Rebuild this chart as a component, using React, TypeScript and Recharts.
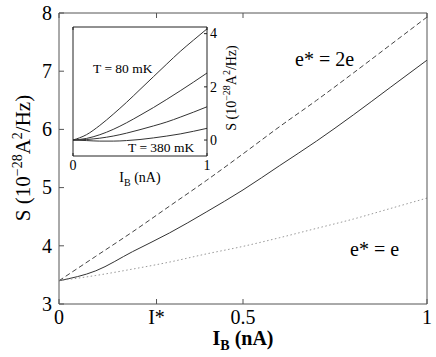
import { LineChart, Line, XAxis, YAxis } from 'recharts'

// main plot: noise vs bias current
const xs = [0, 0.1, 0.2, 0.3, 0.4, 0.5, 0.6, 0.7, 0.8, 0.9, 1]
const twoE = [3.4, 3.82, 4.24, 4.68, 5.12, 5.58, 6.05, 6.5, 6.97, 7.45, 7.93]
const measured = [3.4, 3.57, 3.9, 4.22, 4.58, 4.96, 5.38, 5.8, 6.25, 6.72, 7.19]
const oneE = [3.4, 3.49, 3.6, 3.72, 3.86, 3.99, 4.14, 4.3, 4.46, 4.64, 4.82]

const yTicks = [3, 4, 5, 6, 7, 8]
const xTicks = [0, 0.265, 0.5, 1]
const xTickLabels = ['0', 'I*', '0.5', '1']

// inset: T = 80 mK ... 380 mK
const t80 = [0, 0.2, 0.55, 0.97, 1.42, 1.9, 2.38, 2.86, 3.33, 3.76, 4.18]
const t180 = [0, 0.06, 0.2, 0.4, 0.65, 0.93, 1.22, 1.53, 1.85, 2.18, 2.52]
const t280 = [0, 0.02, 0.07, 0.15, 0.26, 0.39, 0.53, 0.68, 0.86, 1.05, 1.25]
const t380 = [0, -0.02, -0.04, -0.04, -0.02, 0.02, 0.08, 0.15, 0.23, 0.33, 0.44]
const insetYTicks = [0, 2, 4]
const insetXTicks = [0, 1]

const mainData = xs.map((x, i) => ({ x, twoE: twoE[i], measured: measured[i], oneE: oneE[i] }))
const insetData = xs.map((x, i) => ({ x, t80: t80[i], t180: t180[i], t280: t280[i], t380: t380[i] }))

const FONT = 'Liberation Serif, Times New Roman, serif'
const AXIS = '#555'
const serif = { fontFamily: FONT }

// matlab style ticks: pointing into the box
const makeTick =
  (side: string, gap: number, len: number, size: number, color: string, fmt?: (v: number) => string) =>
  (p: any) => {
    const { x, y, payload } = p
    const txt = fmt ? fmt(payload.value) : ''
    let l
    let t = null
    if (side === 'left') {
      l = { x1: x + gap, x2: x + gap + len, y1: y, y2: y }
      t = <text x={x} y={y} dy="0.34em" textAnchor="end">{txt}</text>
    } else if (side === 'right') {
      l = { x1: x - gap, x2: x - gap - len, y1: y, y2: y }
      t = <text x={x} y={y} dy="0.34em" textAnchor="start">{txt}</text>
    } else if (side === 'bottom') {
      l = { x1: x, x2: x, y1: y - gap, y2: y - gap - len }
      t = <text x={x} y={y} dy="0.7em" textAnchor="middle">{txt}</text>
    } else {
      l = { x1: x, x2: x, y1: y + gap, y2: y + gap + len }
    }
    return (
      <g style={{ fontFamily: FONT, fontSize: size }} fill="#000">
        <line {...l} stroke={color} strokeWidth={1} />
        {txt ? t : null}
      </g>
    )
  }

const fmtNum = (v: number) => String(v)
const fmtX = (v: number) => xTickLabels[xTicks.indexOf(v)] ?? ''

export default function App() {
  return (
    <div style={{ position: 'absolute', left: 0, top: 0, width: 436, height: 357, background: '#fff', fontFamily: FONT }}>
      <LineChart width={436} height={357} data={mainData} margin={{ top: 12, right: 8, bottom: 0, left: 0 }}>
        <XAxis
          dataKey="x"
          type="number"
          domain={[0, 1]}
          ticks={xTicks}
          interval={0}
          height={53}
          tickSize={0}
          tickMargin={6}
          stroke={AXIS}
          tickLine={false}
          tick={makeTick('bottom', 6, 5, 20, AXIS, fmtX)}
        />
        <XAxis
          xAxisId="top"
          orientation="top"
          dataKey="x"
          type="number"
          domain={[0, 1]}
          ticks={xTicks}
          interval={0}
          height={1}
          tickSize={0}
          tickMargin={0}
          stroke={AXIS}
          tickLine={false}
          tick={makeTick('top', 0, 5, 20, AXIS)}
        />
        <YAxis
          type="number"
          domain={[3, 8]}
          ticks={yTicks}
          interval={0}
          width={59}
          tickSize={0}
          tickMargin={7}
          stroke={AXIS}
          tickLine={false}
          tick={makeTick('left', 7, 5, 20, AXIS, fmtNum)}
        />
        <YAxis
          yAxisId="right"
          orientation="right"
          type="number"
          domain={[3, 8]}
          ticks={yTicks}
          interval={0}
          width={1}
          tickSize={0}
          tickMargin={0}
          stroke={AXIS}
          tickLine={false}
          tick={makeTick('right', 0, 5, 20, AXIS)}
        />
        <Line dataKey="twoE" type="monotone" stroke="#444" strokeWidth={1} strokeDasharray="5 3" dot={false} isAnimationActive={false} />
        <Line dataKey="measured" type="monotone" stroke="#333" strokeWidth={1} dot={false} isAnimationActive={false} />
        <Line dataKey="oneE" type="monotone" stroke="#999" strokeWidth={1} strokeDasharray="1.5 2.5" dot={false} isAnimationActive={false} />
      </LineChart>

      <div style={{ position: 'absolute', left: 40, top: 10 }}>
        <LineChart width={220} height={185} data={insetData} margin={{ top: 16, right: 52, bottom: 0, left: 0 }}>
          <XAxis
            dataKey="x"
            type="number"
            domain={[0, 1]}
            ticks={insetXTicks}
            interval={0}
            height={39}
            tickSize={0}
            tickMargin={4}
            stroke="#222"
            tickLine={false}
            tick={makeTick('bottom', 4, 3, 14, '#222', fmtNum)}
          />
          <XAxis
            xAxisId="top"
            orientation="top"
            dataKey="x"
            type="number"
            domain={[0, 1]}
            ticks={insetXTicks}
            interval={0}
            height={1}
            tickSize={0}
            tickMargin={0}
            stroke="#222"
            tickLine={false}
            tick={makeTick('top', 0, 3, 14, '#222')}
          />
          <YAxis
            orientation="right"
            type="number"
            domain={[-0.6, 4.25]}
            ticks={insetYTicks}
            interval={0}
            width={1}
            tickSize={0}
            tickMargin={3}
            stroke="#222"
            tickLine={false}
            tick={makeTick('right', 3, 3, 14, '#222', fmtNum)}
          />
          <YAxis
            yAxisId="left"
            type="number"
            domain={[-0.6, 4.25]}
            ticks={insetYTicks}
            interval={0}
            width={33}
            tickSize={0}
            tickMargin={0}
            stroke="#222"
            tickLine={false}
            tick={makeTick('left', 0, 3, 14, '#222')}
          />
          <Line dataKey="t80" type="monotone" stroke="#333" strokeWidth={1} dot={false} isAnimationActive={false} />
          <Line dataKey="t180" type="monotone" stroke="#333" strokeWidth={1} dot={false} isAnimationActive={false} />
          <Line dataKey="t280" type="monotone" stroke="#333" strokeWidth={1} dot={false} isAnimationActive={false} />
          <Line dataKey="t380" type="monotone" stroke="#333" strokeWidth={1} dot={false} isAnimationActive={false} />
        </LineChart>
      </div>

      {/* labels and annotations */}
      <svg width={436} height={357} style={{ position: 'absolute', left: 0, top: 0, pointerEvents: 'none' }} fill="#000">
        <text style={serif} x={243} y={345} textAnchor="middle" fontSize={20} fontWeight="bold">
          I<tspan dy={5} fontSize={14}>B</tspan>
          <tspan dy={-5}> (nA)</tspan>
        </text>
        <text style={serif} x={30} y={158} textAnchor="middle" fontSize={21} transform="rotate(-90 30 158)">
          S (10<tspan dy={-8} fontSize={14}>−28</tspan>
          <tspan dy={8}>A</tspan>
          <tspan dy={-8} fontSize={14}>2</tspan>
          <tspan dy={8}>/Hz)</tspan>
        </text>
        <text style={serif} x={295} y={66} fontSize={20}>e* = 2e</text>
        <text style={serif} x={350} y={256} fontSize={20}>e* = e</text>

        <text style={serif} x={93} y={73} fontSize={13.5}>T = 80 mK</text>
        <text style={serif} x={128} y={152} fontSize={13.5}>T = 380 mK</text>
        <text style={serif} x={140} y={182} textAnchor="middle" fontSize={14}>
          I<tspan dy={4} fontSize={10}>B</tspan>
          <tspan dy={-4}> (nA)</tspan>
        </text>
        <text style={serif} x={236} y={88} textAnchor="middle" fontSize={14} transform="rotate(-90 236 88)">
          S (10<tspan dy={-6} fontSize={10}>−28</tspan>
          <tspan dy={6}>A</tspan>
          <tspan dy={-6} fontSize={10}>2</tspan>
          <tspan dy={6}>/Hz)</tspan>
        </text>
      </svg>
    </div>
  )
}
